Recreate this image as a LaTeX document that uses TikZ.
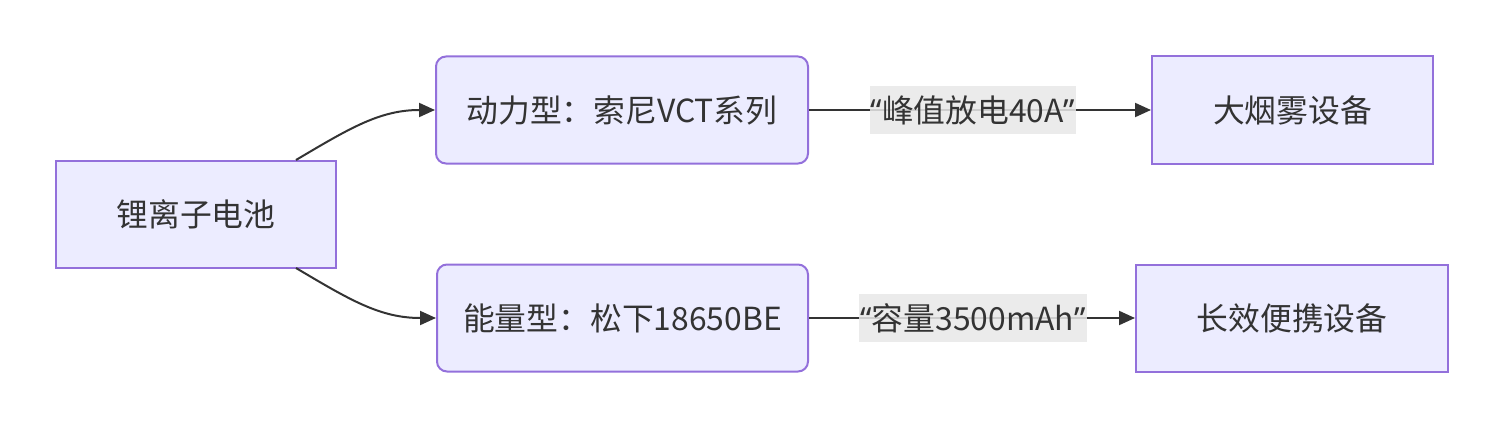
\documentclass[tikz,border=0pt]{standalone}
\usepackage{fontspec}
\setmainfont{Noto Sans CJK SC}
\newfontfamily\quotefont{Noto Sans}
\newcommand{\myoq}{{\quotefont “}}
\newcommand{\mycq}{{\quotefont ”}}
\usetikzlibrary{arrows.meta}
\definecolor{nodefill}{HTML}{ECECFF}
\definecolor{nodedraw}{HTML}{9370DB}
\definecolor{linecol}{HTML}{333333}
\definecolor{lblbg}{HTML}{E8E8E8}
\begin{document}
\begin{tikzpicture}[x=1pt,y=-1pt,
  every node/.style={font=\fontsize{31.8}{36}\selectfont, text=linecol},
  sqbox/.style={draw=nodedraw, fill=nodefill, line width=2pt, minimum height=107pt, inner sep=0pt},
  rdbox/.style={sqbox, rounded corners=10pt},
  edgelbl/.style={fill=lblbg, fill opacity=0.85, text opacity=1, inner xsep=1pt, inner ysep=0pt, minimum height=48pt},
  conn/.style={draw=linecol, line width=2pt, -{Triangle[length=16pt,width=14pt]}}
]
\useasboundingbox (0,0) rectangle (1504,428);
\node[sqbox, minimum width=280pt] (root) at (196,214) {锂离子电池};
\node[rdbox, minimum width=372pt] (pow) at (622,110) {动力型：索尼VCT系列};
\node[rdbox, minimum width=371pt] (ene) at (622.5,318) {能量型：松下18650BE};
\node[sqbox, minimum width=281pt] (smoke) at (1292.5,110) {大烟雾设备};
\node[sqbox, minimum width=312pt] (port) at (1292,318) {长效便携设备};

\coordinate (rt) at (296,160);
\coordinate (rb) at (296,268);
\draw[conn] (rt) .. controls (350,128) and (380,110) .. (pow.west);
\draw[conn] (rb) .. controls (350,300) and (380,318) .. (ene.west);

\draw[conn] (pow.east) -- (smoke.west);
\draw[conn] (ene.east) -- (port.west);
\node[edgelbl] (l1) at (973,110) {\myoq 峰值放电40A\mycq};
\node[edgelbl] (l2) at (973,318) {\myoq 容量3500mAh\mycq};
\end{tikzpicture}
\end{document}
